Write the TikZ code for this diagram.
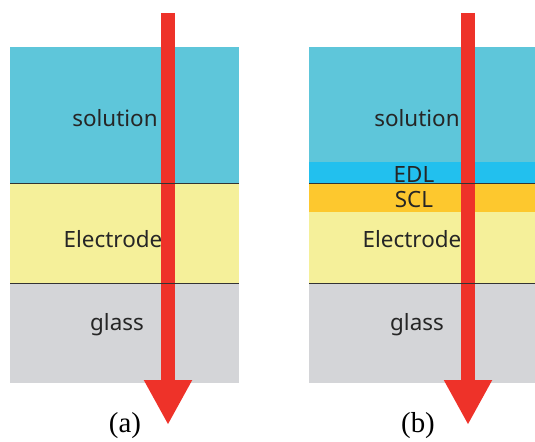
\documentclass[tikz,border=0pt]{standalone}
\usepackage{fontspec}
\setmainfont{Liberation Serif}
\newfontfamily\labfont{Noto Sans}
\usetikzlibrary{arrows.meta}
\definecolor{solc}{HTML}{5EC6DA}
\definecolor{elec}{HTML}{F5F09A}
\definecolor{glas}{HTML}{D4D5D8}
\definecolor{edlc}{HTML}{22C0EE}
\definecolor{sclc}{HTML}{FDC82E}
\definecolor{arrc}{HTML}{EE3229}
\tikzset{
  lab/.style={font=\labfont\fontsize{22.5}{24}\selectfont, inner sep=0pt, text=black!85},
  panellabel/.style={font=\fontsize{29}{32}\selectfont, inner sep=0pt},
  bline/.style={draw=black!80, line width=0.8bp},
  beam/.style={draw=arrc, line width=13.5bp, -{Triangle[width=45bp,length=45bp]}},
}
\begin{document}
\begin{tikzpicture}[x=1bp,y=-1bp]
\useasboundingbox (0,0) rectangle (535,442);
% panel (a)
\fill[solc] (10,47) rectangle (239,183);
\fill[elec] (10,183) rectangle (239,283);
\fill[glas] (10,283) rectangle (239,383);
% panel (b)
\fill[solc] (309,47) rectangle (535,162);
\fill[edlc] (309,162) rectangle (535,183);
\fill[sclc] (309,183) rectangle (535,212);
\fill[elec] (309,212) rectangle (535,283);
\fill[glas] (309,283) rectangle (535,383);
% labels
\node[lab] (sa) at (115,118) {solution};
\node[lab] (ea) at (113,239) {Electrode};
\node[lab] (ga) at (117,325) {glass};
\node[lab] (sb) at (417,118) {solution};
\node[lab] (db) at (414,174) {EDL};
\node[lab] (cb) at (414,199) {SCL};
\node[lab] (eb) at (412,239) {Electrode};
\node[lab] (gb) at (417,325) {glass};
\node[panellabel] (la) at (125,426) {(a)};
\node[panellabel] (lb) at (418,426) {(b)};
% arrows
\coordinate (ta) at (168,13);
\coordinate (ha) at (168,425);
\coordinate (tb) at (468,13);
\coordinate (hb) at (468,425);
\draw[beam] (ta) -- (ha);
\draw[beam] (tb) -- (hb);
% boundary lines
\draw[bline] (10,183) -- (239,183);
\draw[bline] (10,283) -- (239,283);
\draw[bline] (309,183) -- (535,183);
\draw[bline] (309,283) -- (535,283);
\end{tikzpicture}
\end{document}
